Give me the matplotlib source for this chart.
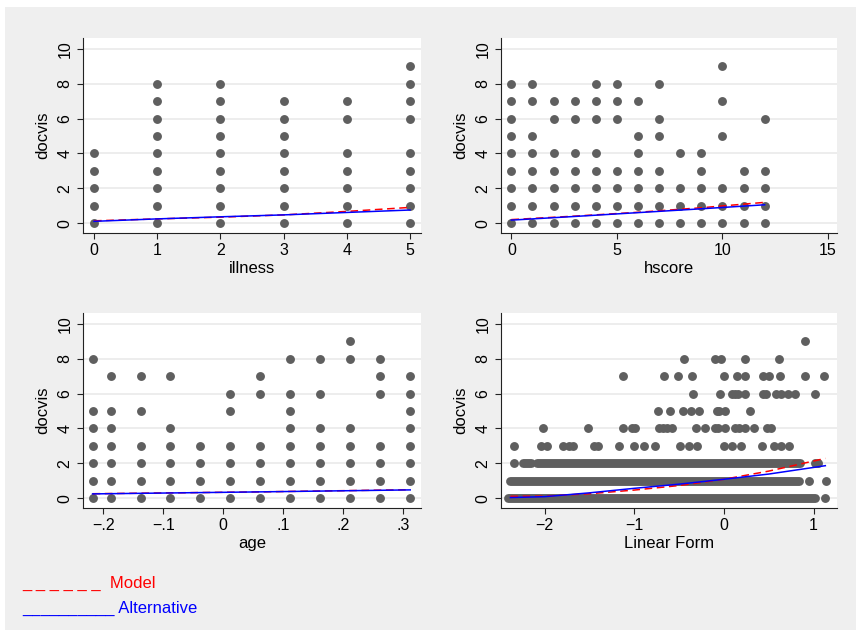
import numpy as np
import matplotlib
matplotlib.use('Agg')
import matplotlib.pyplot as plt
from matplotlib.patches import Rectangle

plt.rcParams['font.family'] = ['Liberation Sans', 'DejaVu Sans']

# ---- 数据 ----
# illness: 每个取值对应出现的 docvis 值
illness_x = [0, 1, 2, 3, 4, 5]
illness_y = [[0, 1, 2, 3, 4],
             [0, 1, 2, 3, 4, 5, 6, 7, 8],
             [0, 1, 2, 3, 4, 5, 6, 7, 8],
             [0, 1, 2, 3, 4, 5, 6, 7],
             [0, 1, 2, 3, 4, 6, 7],
             [0, 1, 2, 3, 4, 6, 7, 8, 9]]
illness_model = [0.13, 0.24, 0.34, 0.47, 0.67, 0.90]
illness_alt = [0.10, 0.24, 0.36, 0.47, 0.61, 0.75]

# hscore
hscore_x = list(range(13))
hscore_y = [[0, 1, 2, 3, 4, 5, 6, 7, 8],
            [0, 1, 2, 3, 4, 5, 7, 8],
            [0, 1, 2, 3, 4, 6, 7],
            [0, 1, 2, 3, 4, 6, 7],
            [0, 1, 2, 3, 4, 6, 7, 8],
            [0, 1, 2, 3, 6, 7, 8],
            [0, 1, 2, 3, 4, 5, 7],
            [0, 1, 2, 3, 5, 6, 8],
            [0, 1, 2, 4],
            [0, 1, 2, 3, 4],
            [0, 1, 2, 5, 7, 9],
            [0, 1, 2, 3],
            [0, 1, 2, 3, 6]]
hscore_line_x = [0, 3, 6, 9, 12]
hscore_model = [0.20, 0.40, 0.62, 0.88, 1.19]
hscore_alt = [0.17, 0.38, 0.60, 0.82, 1.05]

# age (中心化)
age_x = [-0.218, -0.188, -0.138, -0.088, -0.038, 0.012,
         0.062, 0.112, 0.162, 0.212, 0.262, 0.312]
age_y = [[0, 1, 2, 3, 4, 5, 8],
         [0, 1, 2, 3, 4, 5, 7],
         [0, 1, 2, 3, 5, 7],
         [0, 1, 2, 3, 4, 7],
         [0, 1, 2, 3],
         [0, 1, 2, 3, 5, 6],
         [0, 1, 2, 3, 6, 7],
         [0, 1, 2, 3, 4, 5, 6, 8],
         [0, 1, 2, 3, 4, 6, 8],
         [0, 1, 2, 3, 4, 8, 9],
         [0, 1, 2, 3, 6, 7, 8],
         [0, 1, 2, 3, 4, 5, 6, 7]]
age_line_x = [-0.218, 0.047, 0.312]
age_model = [0.25, 0.35, 0.48]
age_alt = [0.24, 0.35, 0.47]

# Linear Form: 0/1/2 行是连续的点带, 用区间表示
lf_runs = {0: [(-2.41, 1.02)],
           1: [(-2.38, 0.84)],
           2: [(-2.24, -2.15), (-2.08, 0.85)]}
lf_dots = {0: [1.13],
           1: [0.95, 1.14],
           2: [-2.34, 1.01, 1.05],
           3: [-2.34, -2.04, -1.97, -1.79, -1.73, -1.68, -1.45, -1.40, -1.17, -1.0,
               -0.89, -0.77, -0.49, -0.39, -0.30, 0.0, 0.09, 0.19, 0.42, 0.56, 0.64, 0.73],
           4: [-2.02, -1.52, -1.13, -1.02, -0.99, -0.72, -0.68, -0.63, -0.58, -0.31,
               -0.21, -0.10, -0.07, 0.01, 0.12, 0.17, 0.23, 0.33, 0.48, 0.52],
           5: [-0.73, -0.60, -0.455, -0.37, -0.28, -0.08, -0.05, 0.01, 0.29],
           6: [-0.34, -0.04, 0.09, 0.12, 0.16, 0.23, 0.43, 0.47, 0.58, 0.64, 0.71, 0.79, 1.02],
           7: [-1.12, -0.67, -0.51, -0.36, 0.0, 0.14, 0.23, 0.43, 0.50, 0.62, 0.90, 1.12],
           8: [-0.45, -0.10, -0.03, 0.23, 0.61],
           9: [0.90]}
lf_line_x = [-2.38, -2.0, -1.5, -1.0, -0.5, 0.0, 0.5, 1.13]
lf_model = [0.10, 0.11, 0.25, 0.46, 0.72, 1.08, 1.55, 2.28]
lf_alt = [0.03, 0.08, 0.30, 0.56, 0.80, 1.08, 1.38, 1.86]

# ---- 样式 ----
bg = '#efefef'
dot_color = '#5f5f5f'
dot_size = 6.4
W, H = 856, 630

fig = plt.figure(figsize=(W / 100, H / 100), dpi=100, facecolor='white')
fig.patches.append(Rectangle((5 / W, 0), 1, 1 - 7 / H, transform=fig.transFigure,
                             facecolor=bg, edgecolor='none', zorder=-10))


def make_ax(left, top, right, bottom):
    ax = fig.add_axes([left / W, 1 - bottom / H, (right - left) / W, (bottom - top) / H])
    ax.set_facecolor('white')
    for s in ['top', 'right']:
        ax.spines[s].set_visible(False)
    for s in ['left', 'bottom']:
        ax.spines[s].set_color('#222222')
        ax.spines[s].set_linewidth(0.8)
    ax.set_ylim(-0.57, 10.63)
    ax.set_yticks([0, 2, 4, 6, 8, 10])
    ax.yaxis.grid(True, color='#e8e8e8', linewidth=1.1)
    ax.set_axisbelow(True)
    ax.tick_params(axis='both', length=4.5, width=0.8, color='#222222', labelsize=11.5, pad=3)
    for lab in ax.get_yticklabels():
        lab.set_rotation(90)
        lab.set_va('center')
    ax.set_ylabel('docvis', fontsize=12, labelpad=5)
    return ax


def discrete_scatter(ax, xs, ys):
    for x, col in zip(xs, ys):
        ax.plot([x] * len(col), col, 'o', color=dot_color, markersize=dot_size,
                markeredgewidth=0, zorder=2)


def fit_lines(ax, x, model, alt):
    ax.plot(x, model, color='red', linestyle=(0, (5, 3)), linewidth=1.1, zorder=3)
    ax.plot(x, alt, color='blue', linewidth=1.1, zorder=4)


# 左上: illness
ax1 = make_ax(83, 38, 421, 233)
discrete_scatter(ax1, illness_x, illness_y)
fit_lines(ax1, illness_x, illness_model, illness_alt)
ax1.set_xlim(-0.174, 5.174)
ax1.set_xticks([0, 1, 2, 3, 4, 5])
ax1.set_xlabel('illness', fontsize=12, labelpad=2)

# 右上: hscore
ax2 = make_ax(501, 38, 837, 233)
discrete_scatter(ax2, hscore_x, hscore_y)
fit_lines(ax2, hscore_line_x, hscore_model, hscore_alt)
ax2.set_xlim(-0.49, 15.43)
ax2.set_xticks([0, 5, 10, 15])
ax2.set_xlabel('hscore', fontsize=12, labelpad=2)

# 左下: age
ax3 = make_ax(83, 313, 421, 508)
discrete_scatter(ax3, age_x, age_y)
fit_lines(ax3, age_line_x, age_model, age_alt)
ax3.set_xlim(-0.234, 0.33)
ax3.set_xticks([-0.2, -0.1, 0, 0.1, 0.2, 0.3])
ax3.set_xticklabels(['\u2212.2', '\u2212.1', '0', '.1', '.2', '.3'])
ax3.set_xlabel('age', fontsize=12, labelpad=2)

# 右下: Linear Form
ax4 = make_ax(501, 313, 837, 508)
for yv, runs in lf_runs.items():
    for a, b in runs:
        ax4.plot([a, b], [yv, yv], color=dot_color, linewidth=dot_size,
                 solid_capstyle='round', zorder=2)
for yv, xs in lf_dots.items():
    ax4.plot(xs, [yv] * len(xs), 'o', color=dot_color, markersize=dot_size,
             markeredgewidth=0, zorder=2)
fit_lines(ax4, lf_line_x, lf_model, lf_alt)
ax4.set_xlim(-2.485, 1.26)
ax4.set_xticks([-2, -1, 0, 1])
ax4.set_xticklabels(['\u22122', '\u22121', '0', '1'])
ax4.set_xlabel('Linear Form', fontsize=12, labelpad=2)

# 底部说明 (Stata 风格的图例)
fig.text(22 / W, 1 - 588 / H, '_ _ _ _ _ _  Model', color='red', fontsize=12, va='baseline')
fig.text(22 / W, 1 - 613 / H, '__________ Alternative', color='blue', fontsize=12, va='baseline')

fig.savefig('out.png', dpi=100, facecolor=fig.get_facecolor())
